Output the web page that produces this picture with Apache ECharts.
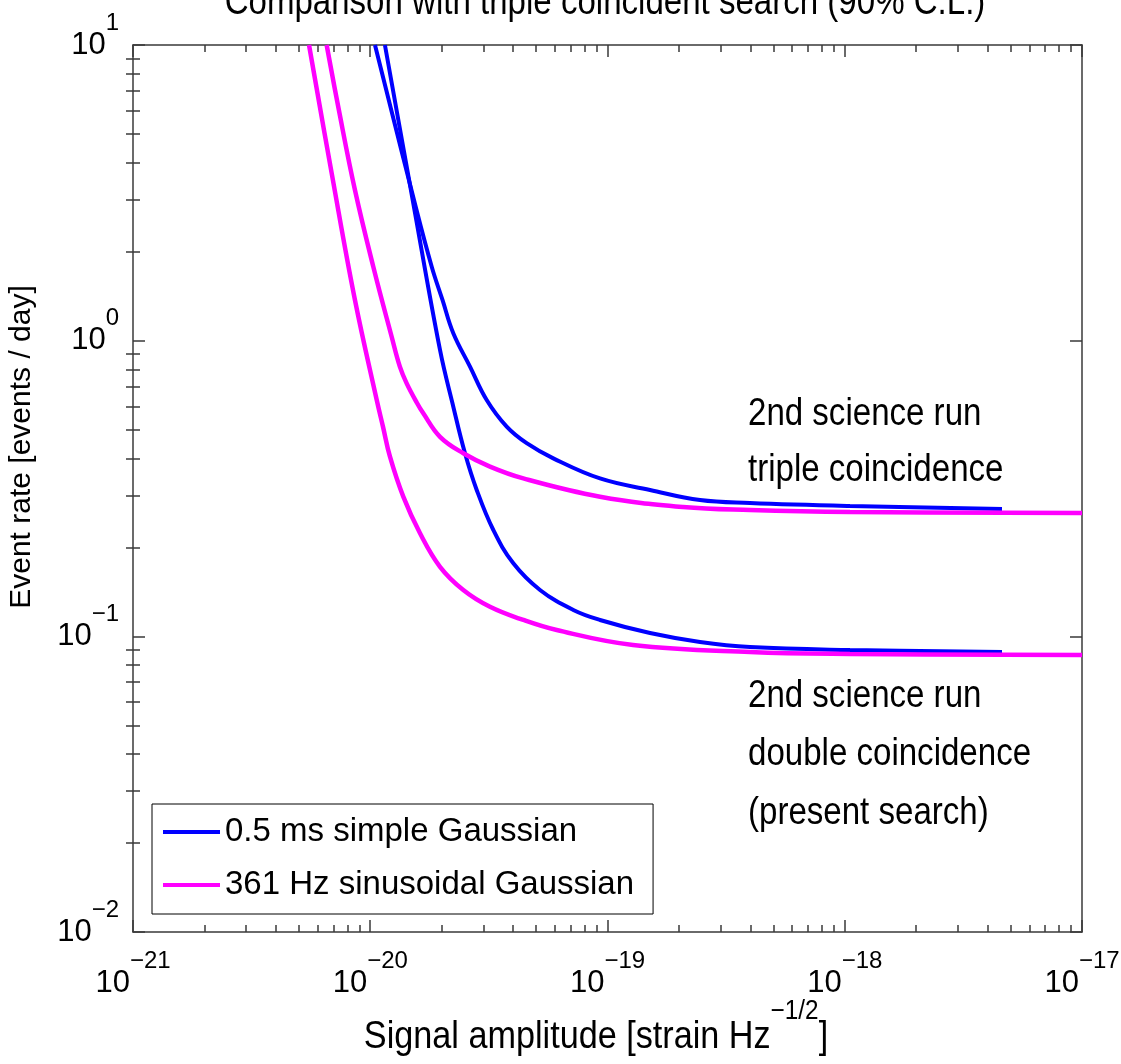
<!DOCTYPE html>
<html>
<head>
<meta charset="utf-8">
<script src="https://cdn.jsdelivr.net/npm/echarts@6/dist/echarts.min.js"></script>
<style>
  html, body { margin: 0; padding: 0; background: #fff; overflow: hidden; }
  #chart { width: 1121px; height: 1064px; }
</style>
</head>
<body>
<div id="chart"></div>
<script>
// Axis ticks (decades) and their exponent labels
const xTickValues = [1e-21, 1e-20, 1e-19, 1e-18, 1e-17];
const xTickExponents = ['\u221221', '\u221220', '\u221219', '\u221218', '\u221217'];
const yTickValues = [1e-2, 1e-1, 1, 10];
const yTickExponents = ['\u22122', '\u22121', '0', '1'];

const seriesNames = ['0.5 ms simple Gaussian', '361 Hz sinusoidal Gaussian'];

// [signal amplitude (strain Hz^-1/2), event rate (events/day)]
const gaussianTriple = [
  [1.047e-20, 10], [1.529e-20, 2.99], [1.816e-20, 1.779], [2.016e-20, 1.373],
  [2.239e-20, 1.059], [2.633e-20, 0.817], [3.096e-20, 0.630], [3.759e-20, 0.512],
  [4.564e-20, 0.450], [5.910e-20, 0.400], [9.30e-20, 0.342], [1.511e-19, 0.3127],
  [2.455e-19, 0.289], [3.987e-19, 0.2825], [1.052e-18, 0.276], [4.60e-18, 0.2696]
];
const gaussianDouble = [
  [1.153e-20, 10], [1.510e-20, 2.99], [1.968e-20, 0.930], [2.239e-20, 0.598],
  [2.508e-20, 0.416], [2.810e-20, 0.3127], [3.302e-20, 0.2289], [4.009e-20, 0.1766],
  [5.194e-20, 0.1435], [7.176e-20, 0.1228], [9.30e-20, 0.1136], [1.511e-19, 0.1026],
  [2.455e-19, 0.0957], [3.987e-19, 0.0920], [1.052e-18, 0.0899], [4.60e-18, 0.0885]
];
const sineGaussianTriple = [
  [6.55e-21, 10], [7.33e-21, 6.18], [8.62e-21, 3.233], [1.030e-20, 1.779],
  [1.231e-20, 1.031], [1.334e-20, 0.815], [1.424e-20, 0.717], [1.574e-20, 0.6155],
  [1.673e-20, 0.568], [1.968e-20, 0.473], [2.467e-20, 0.416], [3.196e-20, 0.375],
  [4.418e-20, 0.342], [9.30e-20, 0.2967], [2.081e-19, 0.2738], [3.987e-19, 0.2675],
  [1.052e-18, 0.2634], [1e-17, 0.2613]
];
const sineGaussianDouble = [
  [5.52e-21, 10], [6.90e-21, 3.63], [8.62e-21, 1.373], [1.065e-20, 0.630],
  [1.132e-20, 0.511], [1.211e-20, 0.405], [1.378e-20, 0.2967], [1.621e-20, 0.2231],
  [1.968e-20, 0.1719], [2.467e-20, 0.1435], [3.196e-20, 0.1259], [4.418e-20, 0.1136],
  [6.108e-20, 0.1050], [1.281e-19, 0.0935], [3.987e-19, 0.0885], [1.052e-18, 0.0872],
  [1e-17, 0.0865]
];

const annotations = [
  { text: '2nd science run', y: 415 },
  { text: 'triple coincidence', y: 471 },
  { text: '2nd science run', y: 697 },
  { text: 'double coincidence', y: 755 },
  { text: '(present search)', y: 814 }
];

const FONT = "'Liberation Sans', Arial, Helvetica, sans-serif";
const AXIS_COLOR = '#3a3a3a';
const NARROW_SCALE = 0.87;

// minor ticks at 2..9 within each decade
function minorTicks(fromExp, toExp) {
  const out = [];
  for (let e = fromExp; e < toExp; e++) {
    for (let k = 2; k <= 9; k++) out.push(k * Math.pow(10, e));
  }
  return out;
}

const labelRich = {
  b: { fontFamily: FONT, fontSize: 31, color: '#000', lineHeight: 80 },
  s: { fontFamily: FONT, fontSize: 24, color: '#000', verticalAlign: 'top', padding: [6, 0, 0, 0] }
};

function expLabel(values, exps) {
  return function (v) {
    let idx = 0, best = Infinity;
    values.forEach(function (t, i) {
      const d = Math.abs(Math.log10(t) - Math.log10(v));
      if (d < best) { best = d; idx = i; }
    });
    return '{b|10}{s|' + exps[idx] + '}';
  };
}

function makeAxis(common, position, ticks, length, opts) {
  return Object.assign({
    type: 'log',
    logBase: 10,
    position: position,
    splitLine: { show: false },
    axisLine: { show: true, onZero: false, lineStyle: { color: AXIS_COLOR, width: 1.5 } },
    axisTick: { show: true, inside: true, length: length, customValues: ticks,
                lineStyle: { color: AXIS_COLOR, width: 1.5 } },
    axisLabel: { show: false }
  }, common, opts || {});
}

const xCommon = { min: 1e-21, max: 1e-17 };
const yCommon = { min: 1e-2, max: 10 };
const xMinor = minorTicks(-21, -17);
const yMinor = minorTicks(-2, 1);

const option = {
  animation: false,
  backgroundColor: '#fff',
  grid: { left: 133, top: 45, right: 39, bottom: 132, containLabel: false, outerBoundsMode: 'none' },
  xAxis: [
    makeAxis(xCommon, 'bottom', xTickValues, 12, {
      axisLabel: { show: true, customValues: xTickValues, margin: 11,
                   formatter: expLabel(xTickValues, xTickExponents), rich: labelRich }
    }),
    makeAxis(xCommon, 'top', xTickValues, 12),
    makeAxis(xCommon, 'bottom', xMinor, 7, { axisLine: { show: false } }),
    makeAxis(xCommon, 'top', xMinor, 7, { axisLine: { show: false } })
  ],
  yAxis: [
    makeAxis(yCommon, 'left', yTickValues, 12, {
      axisLabel: { show: true, customValues: yTickValues, margin: 14,
                   formatter: expLabel(yTickValues, yTickExponents), rich: labelRich }
    }),
    makeAxis(yCommon, 'right', yTickValues, 12),
    makeAxis(yCommon, 'left', yMinor, 7, { axisLine: { show: false } }),
    makeAxis(yCommon, 'right', yMinor, 7, { axisLine: { show: false } })
  ],
  legend: {
    left: 152, top: 804,
    orient: 'vertical',
    data: seriesNames,
    icon: 'rect',
    itemWidth: 57, itemHeight: 4, itemGap: 13,
    padding: [8, 19, 9, 11],
    backgroundColor: '#fff',
    borderColor: '#000', borderWidth: 1, borderRadius: 0,
    textStyle: { fontFamily: FONT, fontSize: 33, color: '#000', lineHeight: 40 }
  },
  series: [
    { name: seriesNames[0], data: gaussianTriple, color: '#0000ff' },
    { name: seriesNames[0], data: gaussianDouble, color: '#0000ff' },
    { name: seriesNames[1], data: sineGaussianTriple, color: '#ff00ff' },
    { name: seriesNames[1], data: sineGaussianDouble, color: '#ff00ff' }
  ].map(function (s, i) {
    return {
      type: 'line', name: s.name, data: s.data,
      xAxisIndex: 0, yAxisIndex: 0,
      showSymbol: false, symbol: 'none',
      smooth: 0.4,
      itemStyle: { color: s.color },
      lineStyle: { color: s.color, width: i < 2 ? 4 : 4.5 },
      z: i < 2 ? 2 : 3
    };
  }),
  graphic: [
    { type: 'text', x: 605, y: 4, scaleX: NARROW_SCALE, silent: true,
      style: { text: 'Comparison with triple coincident search (90% C.L.)', fontFamily: FONT,
               fontSize: 38, fill: '#000', align: 'center', verticalAlign: 'middle' } },
    { type: 'text', x: 596, y: 996, scaleX: 0.9, silent: true,
      style: { text: '{t|Signal amplitude [strain Hz}{s|\u22121/2}{t|]}', fill: '#000',
               align: 'center', verticalAlign: 'top',
               rich: {
                 t: { fontFamily: FONT, fontSize: 38, lineHeight: 84, fill: '#000' },
                 s: { fontFamily: FONT, fontSize: 27, verticalAlign: 'top', padding: [2, 0, 0, 0], fill: '#000' }
               } } },
    { type: 'text', x: 22, y: 447, rotation: Math.PI / 2, silent: true,
      style: { text: 'Event rate [events / day]', fontFamily: FONT, fontSize: 30,
               fill: '#000', align: 'center', verticalAlign: 'middle' } }
  ].concat(annotations.map(function (a) {
    return { type: 'text', x: 748, y: a.y, scaleX: NARROW_SCALE, silent: true,
             style: { text: a.text, fontFamily: FONT, fontSize: 38, fill: '#000',
                      align: 'left', verticalAlign: 'middle' } };
  }))
};

const chart = echarts.init(document.getElementById('chart'), null, { renderer: 'canvas' });
chart.setOption(option);
</script>
</body>
</html>
